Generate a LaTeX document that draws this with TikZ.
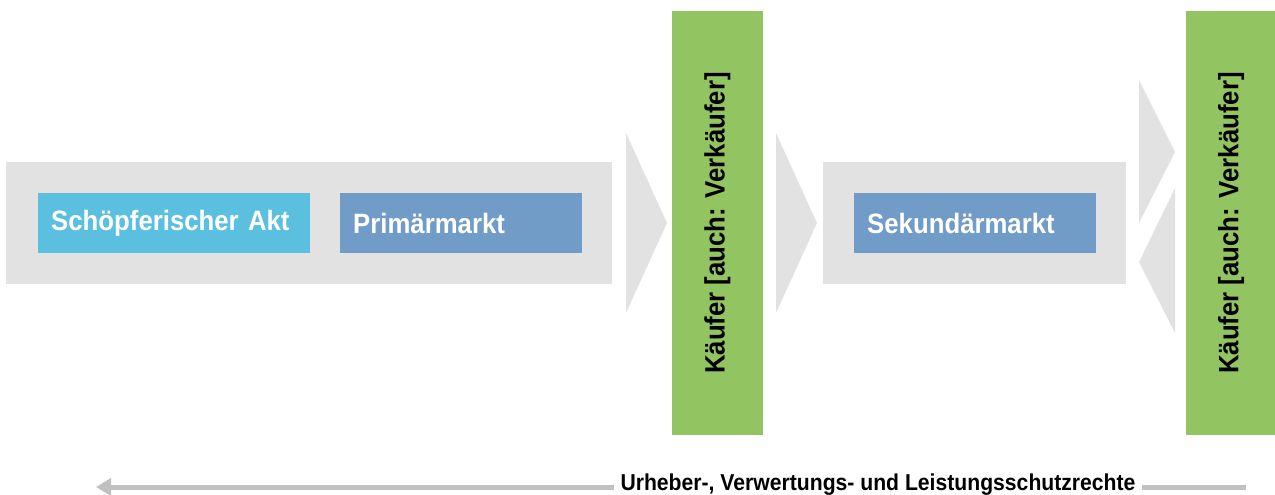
\documentclass[tikz,border=0pt]{standalone}
\usepackage{fontspec}
\setmainfont{Liberation Sans}[FakeStretch=0.92]
\usetikzlibrary{arrows.meta}
\definecolor{bandgray}{HTML}{E2E2E2}
\definecolor{actcyan}{HTML}{5BBFDF}
\definecolor{marketblue}{HTML}{709CC7}
\definecolor{buyergreen}{HTML}{92C462}
\definecolor{rulegray}{HTML}{C0C0C0}
\tikzset{band/.style = {fill = bandgray}}
\tikzset{stage/.style = {anchor = north west, inner xsep = 13pt, inner ysep = 0, minimum height = 60pt, text = white, align = left, font = \bfseries\fontsize{28}{32}\selectfont}}
\tikzset{buyer/.style = {fill = buyergreen, rotate = 90, minimum width = 424pt, minimum height = 91pt, inner sep = 0, font = \bfseries\fontsize{28}{32}\selectfont}}

\begin{document}
\begin{tikzpicture}[x = 1pt, y = -1pt]
      \useasboundingbox (0, 0) rectangle (1275, 495);

      % grey bands behind the markets
      \fill [band] (6, 162) rectangle (612, 284);
      \fill [band] (823, 162) rectangle (1126, 284);

      \node [stage, fill = actcyan, text width = 246pt] (act) at (38, 193) {Schöpferischer Akt};
      \node [stage, fill = marketblue, text width = 216pt] (primary) at (340, 193) {Primärmarkt};
      \node [stage, fill = marketblue, text width = 216pt] (secondary) at (854, 193) {Sekundärmarkt};

      % wedges
      \foreach \x in {626, 776} {
        \fill [band] (\x, 133) -- (\x + 41, 223) -- (\x, 313) -- cycle;
      }
      \fill [band] (1139, 80) -- (1175, 152) -- (1139, 223) -- cycle;
      \fill [band] (1175, 188) -- (1139, 262) -- (1175, 333) -- cycle;

      \node [buyer] (buyer1) at (717.5, 223) {Käufer [auch: Verkäufer]};
      \node [buyer] (buyer2) at (1231, 223) {Käufer [auch: Verkäufer]};

      \node [inner xsep = 6pt, font = \bfseries\fontsize{23}{26}\selectfont] (rights) at (878, 485) {Urheber-, Verwertungs- und Leistungsschutzrechte};
      \coordinate (rend) at (1246, 487);
      \coordinate (lend) at (96, 487);
      \draw [rulegray, line width = 5pt] (rend) -- (rights.east |- rend);
      \draw [rulegray, line width = 5pt, -{Triangle[length = 15pt, width = 17pt]}] (rights.west |- lend) -- (lend);
    \end{tikzpicture}
\end{document}
